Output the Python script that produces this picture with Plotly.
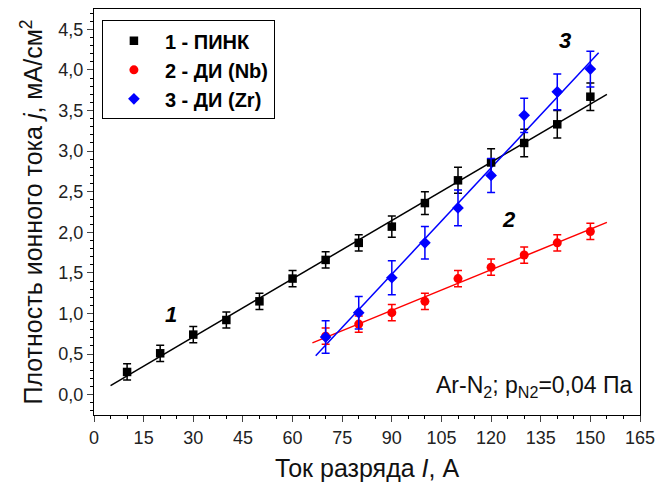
import numpy as np
import plotly.graph_objects as go

# Series 1 - ПИНК
x1 = [10, 20, 30, 40, 50, 60, 70, 80, 90, 100, 110, 120, 130, 140, 150]
y1 = [0.28, 0.51, 0.74, 0.92, 1.15, 1.43, 1.66, 1.87, 2.07, 2.36, 2.64, 2.86, 3.10, 3.33, 3.67]
e1 = [0.1, 0.1, 0.1, 0.1, 0.1, 0.1, 0.1, 0.1, 0.13, 0.14, 0.16, 0.17, 0.17, 0.17, 0.17]
# Series 2 - ДИ (Nb)
x2 = [70, 80, 90, 100, 110, 120, 130, 140, 150]
y2 = [0.72, 0.87, 1.01, 1.15, 1.43, 1.57, 1.72, 1.87, 2.01]
e2 = [0.1, 0.1, 0.1, 0.1, 0.1, 0.1, 0.1, 0.1, 0.1]
# Series 3 - ДИ (Zr)
x3 = [70, 80, 90, 100, 110, 120, 130, 140, 150]
y3 = [0.71, 1.01, 1.44, 1.87, 2.30, 2.70, 3.44, 3.73, 4.01]
e3 = [0.2, 0.2, 0.21, 0.2, 0.22, 0.21, 0.21, 0.22, 0.22]

names = ["1 - ПИНК", "2 - ДИ (Nb)", "3 - ДИ (Zr)"]
fit_ranges = [(5, 155), (66, 155), (67, 152.5)]

series = [
    (x1, y1, e1, "black", "square", 8.5),
    (x2, y2, e2, "red", "circle", 9),
    (x3, y3, e3, "blue", "diamond", 9),
]

fig = go.Figure()
for (xs, ys, es, col, sym, sz), nm, (fa, fb) in zip(series, names, fit_ranges):
    k, b = np.polyfit(xs, ys, 1)
    fx = np.array([fa, fb])
    fig.add_trace(go.Scatter(x=fx, y=k * fx + b, mode="lines",
                             line=dict(color=col, width=1.5), showlegend=False,
                             hoverinfo="skip"))
for (xs, ys, es, col, sym, sz), nm in zip(series, names):
    fig.add_trace(go.Scatter(
        x=xs, y=ys, mode="markers", name=nm,
        marker=dict(color=col, symbol=sym, size=sz),
        error_y=dict(type="data", array=es, color=col, thickness=1.5, width=4),
    ))

font_main = "Liberation Sans, Arial, sans-serif"
fig.update_layout(
    width=663, height=493,
    margin=dict(l=94, r=18, t=8, b=78),
    plot_bgcolor="white", paper_bgcolor="white",
    separators=", ",
    font=dict(family=font_main, size=18, color="#222"),
    legend=dict(x=0.0145, y=0.972, xanchor="left", yanchor="top",
                bordercolor="black", borderwidth=1, bgcolor="white",
                font=dict(size=20, color="black", family=font_main, weight="bold"),
                itemwidth=52, tracegroupgap=0),
    xaxis=dict(range=[0, 165], dtick=15, tick0=0, ticks="outside", ticklen=6,
               tickwidth=1.2, linecolor="black", linewidth=1.2, mirror=True,
               showgrid=False, zeroline=False,
               tickfont=dict(size=18, color="#222"),
               minor=dict(dtick=5, ticks="outside", ticklen=3, tickcolor="black"),
               title=dict(text="Ток разряда <i>I</i>, А", font=dict(size=25, color="#111"),
                          standoff=12)),
    yaxis=dict(range=[-0.25, 4.75], dtick=0.5, tick0=0, ticks="outside", ticklen=6,
               tickwidth=1.2, linecolor="black", linewidth=1.2, mirror=True,
               showgrid=False, zeroline=False, tickformat=".1f",
               tickfont=dict(size=18, color="#222"),
               minor=dict(dtick=0.1, ticks="outside", ticklen=3, tickcolor="black"),
               title=dict(text="Плотность ионного тока <i>j</i>, мА/см<sup>2</sup>",
                          font=dict(size=25, color="#111"), standoff=8)),
)

fig.add_annotation(x=23.4, y=0.99, text="<b><i>1</i></b>", showarrow=False,
                   font=dict(size=22, color="black"))
fig.add_annotation(x=125.5, y=2.16, text="<b><i>2</i></b>", showarrow=False,
                   font=dict(size=22, color="black"))
fig.add_annotation(x=142.2, y=4.36, text="<b><i>3</i></b>", showarrow=False,
                   font=dict(size=22, color="black"))
fig.add_annotation(x=0.99, y=0.03, xref="paper", yref="paper", xanchor="right",
                   yanchor="bottom", showarrow=False,
                   text="Ar-N<sub>2</sub>; p<sub>N2</sub>=0,04 Па",
                   font=dict(size=23, color="#111"))

fig.write_html("out.html")
